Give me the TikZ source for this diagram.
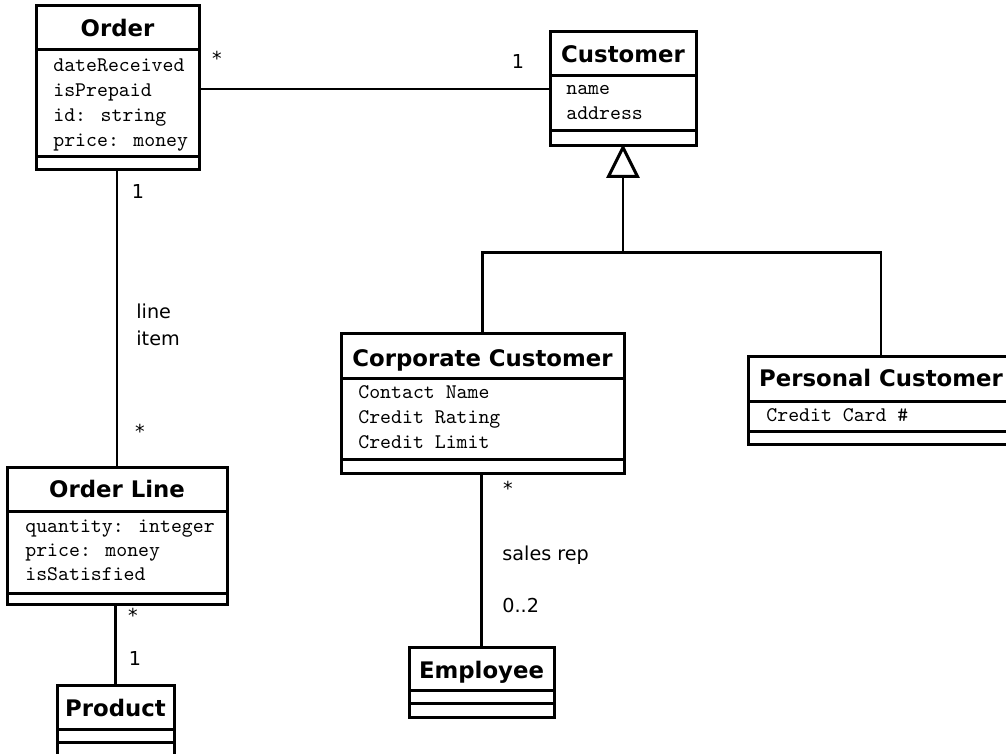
\documentclass[tikz,border=0pt]{standalone}
\usepackage{fontspec}
\setmainfont{DejaVu Sans}
\usetikzlibrary{fit}

\tikzset{
  classbox/.style={draw, line width=1.5pt, inner sep=0pt, fill=white},
  divider/.style={line width=1.5pt},
  conn/.style={line width=1.3pt},
  classtitle/.style={font=\bfseries\fontsize{11.4}{13}\selectfont, inner sep=0pt, anchor=base},
  attr/.style={font=\ttfamily\fontsize{10.4}{12}\selectfont, inner sep=0pt, anchor=base west},
  mult/.style={font=\fontsize{9.6}{11}\selectfont, inner sep=0pt},
}

% #1 name, #2 left, #3 top, #4 right, #5 title divider, #6 attribute divider,
% #7 bottom, #8 title, #9 title baseline
\newcommand\umlclass[9]{%
  \node[classbox, fit={(#2,#3) (#4,#7)}] (#1) {};
  \draw[divider] (#2,#5) -- (#4,#5);
  \draw[divider] (#2,#6) -- (#4,#6);
  \node[classtitle] (#1-title) at ({(#2+#4)/2},#9) {#8};
}

\begin{document}
\begin{tikzpicture}[x=0.5pt, y=-0.5pt]
\useasboundingbox (0,0) rectangle (1006,754);
\clip (0,0) rectangle (1006,754);

% classes
\umlclass{order}{36}{6}{199}{50}{157}{170}{Order}{37}
\node[attr] (order-a1) at (53,72) {dateReceived};
\node[attr] (order-a2) at (53,97) {isPrepaid};
\node[attr] (order-a3) at (53,122) {id: string};
\node[attr] (order-a4) at (53,147) {price: money};

\umlclass{customer}{550}{32}{696}{76}{131}{146}{Customer}{63}
\node[attr] (customer-a1) at (566,95) {name};
\node[attr] (customer-a2) at (566,120) {address};

\umlclass{corporate}{341}{333}{624}{378}{459}{473}{Corporate Customer}{366}
\node[attr] (corporate-a1) at (358,398) {Contact Name};
\node[attr] (corporate-a2) at (358,423) {Credit Rating};
\node[attr] (corporate-a3) at (358,448) {Credit Limit};

\umlclass{personal}{748}{356}{1014}{401}{431}{444}{Personal Customer}{386}
\node[attr] (personal-a1) at (766,421) {Credit Card \#};

\umlclass{orderline}{7}{467}{227}{511}{593}{604}{Order Line}{497}
\node[attr] (orderline-a1) at (25,532) {quantity: integer};
\node[attr] (orderline-a2) at (25,556) {price: money};
\node[attr] (orderline-a3) at (25,580) {isSatisfied};

\umlclass{product}{57}{685}{174}{729}{742}{756}{Product}{716}

\umlclass{employee}{409}{647}{554}{690}{703}{717}{Employee}{678}

% associations
\draw[conn] (order.east |- customer.west) -- (customer.west);
\node[mult] (m-oc-order) at (217,58) {*};
\node[mult] (m-oc-cust) at (518,62) {1};

\draw[conn] (orderline.north |- order.south) -- (orderline.north);
\node[mult] (m-ol-order) at (138,192) {1};
\node[mult, anchor=west, align=left] (m-ol-role) at (136,325) {line\\[2.5pt]item};
\node[mult] (m-ol-line) at (140,431) {*};

\draw[conn] (product.north |- orderline.south) -- (product.north);
\node[mult] (m-lp-line) at (133,615) {*};
\node[mult] (m-lp-prod) at (135,658) {1};

\draw[conn] (employee.north |- corporate.south) -- (employee.north);
\node[mult] (m-ce-corp) at (508,488) {*};
\node[mult, anchor=west] (m-ce-role) at (502,555) {sales rep};
\node[mult, anchor=west] (m-ce-emp) at (502,606) {0..2};

% generalization
\coordinate (genbase) at ([yshift=-14.5pt]customer.south);
\coordinate (genjoin) at ([yshift=-52.5pt]customer.south);
\draw[conn] (genbase) -- (genjoin);
\draw[conn] (corporate.north) -- (corporate.north |- genjoin)
  -- (personal.north |- genjoin) -- (personal.north);
\draw[divider, fill=white] (customer.south) -- ++(-14.5,29) -- ++(29,0) -- cycle;
\end{tikzpicture}
\end{document}
